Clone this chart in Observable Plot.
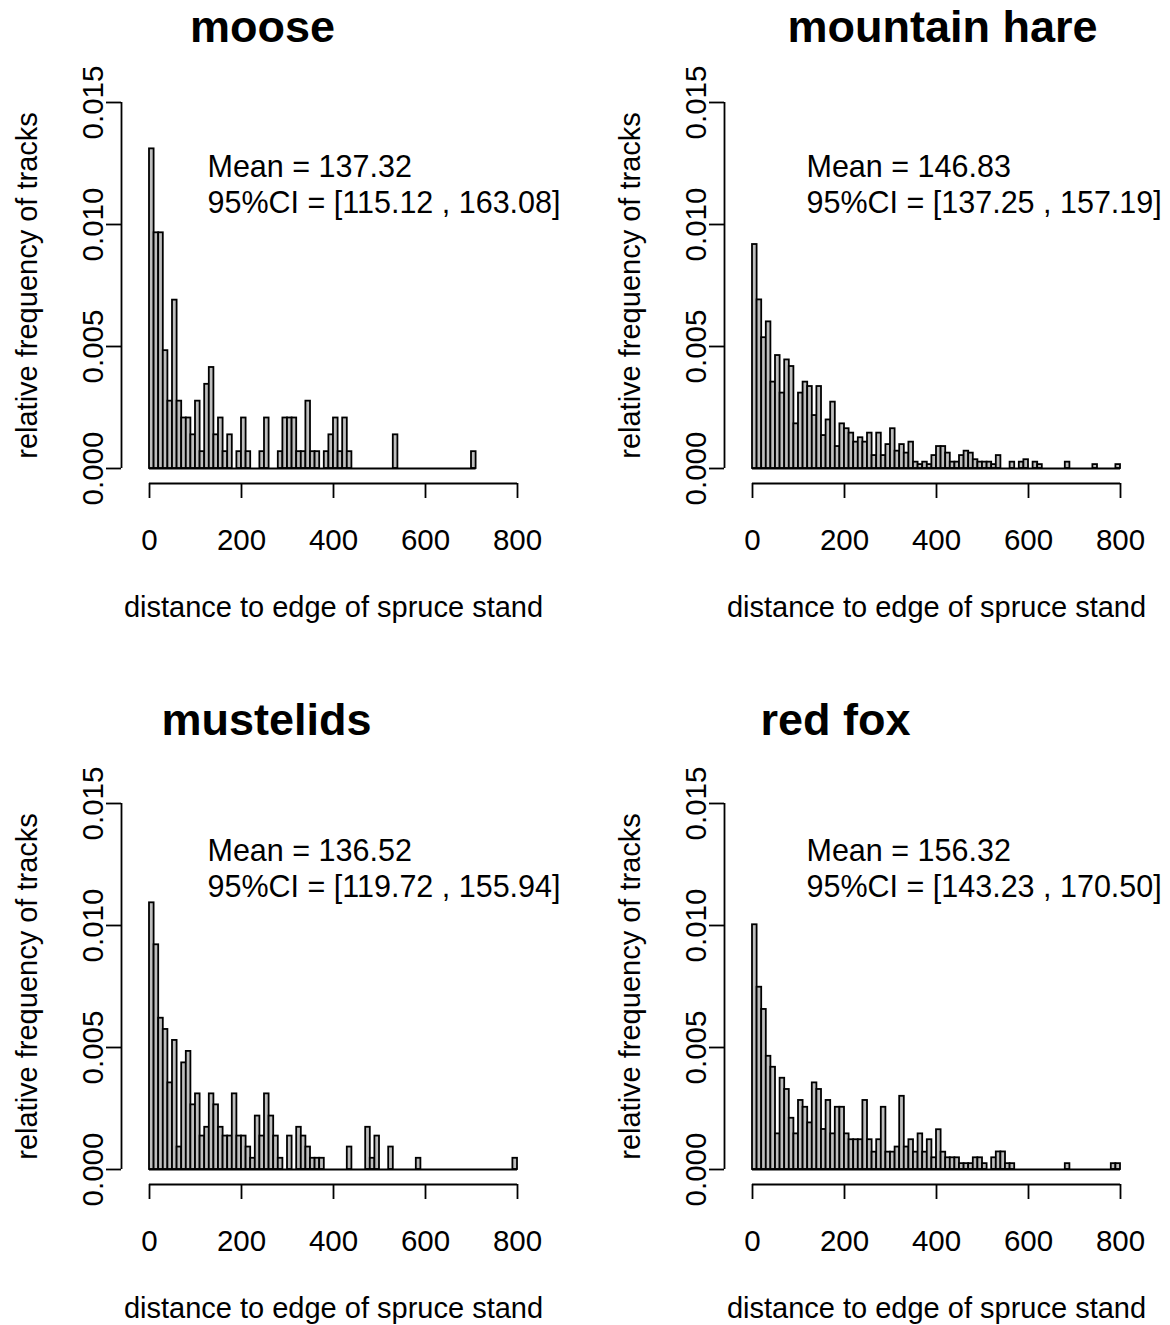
<!DOCTYPE html>
<html><head><meta charset="utf-8">
<script src="https://cdn.jsdelivr.net/npm/d3@7"></script>
<script src="https://cdn.jsdelivr.net/npm/@observablehq/plot@0.6"></script>
<style>
body{margin:0;background:#fff;}
#chart{position:relative;width:1170px;height:1325px;background:#fff;overflow:hidden;}
#chart svg{position:absolute;overflow:visible;}
</style></head><body><div id="chart"></div>
<script>
const species = ["moose", "mountain hare", "mustelids", "red fox"];
const binWidth = 10;

const mooseDensity = [
  0.01310, 0.00966, 0.00966, 0.00483, 0.00276, 0.00690, 0.00276, 0.00207, 0.00207, 0.00138,
  0.00276, 0.00069, 0.00345, 0.00414, 0.00138, 0.00207, 0.00069, 0.00138, 0, 0.00069,
  0.00207, 0.00069, 0, 0, 0.00069, 0.00207, 0, 0, 0.00069, 0.00207,
  0.00207, 0.00207, 0.00069, 0.00069, 0.00276, 0.00069, 0.00069, 0, 0.00069, 0.00138,
  0.00207, 0.00069, 0.00207, 0.00069, 0, 0, 0, 0, 0, 0,
  0, 0, 0, 0.00138, 0, 0, 0, 0, 0, 0,
  0, 0, 0, 0, 0, 0, 0, 0, 0, 0,
  0.00069
];
const hareDensity = [
  0.00918, 0.00691, 0.00536, 0.00601, 0.00354, 0.00463, 0.00309, 0.00445, 0.00418, 0.00183,
  0.00309, 0.00354, 0.00336, 0.00217, 0.00336, 0.00135, 0.00199, 0.00272, 0.00090, 0.00183,
  0.00163, 0.00145, 0.00108, 0.00126, 0.00108, 0.00145, 0.00053, 0.00145, 0.00053, 0.00098,
  0.00163, 0.00071, 0.00098, 0.00063, 0.00108, 0.00026, 0.00016, 0.00026, 0.00016, 0.00053,
  0.00090, 0.00090, 0.00063, 0.00026, 0.00026, 0.00053, 0.00071, 0.00063, 0.00036, 0.00026,
  0.00026, 0.00026, 0.00016, 0.00053, 0, 0, 0.00026, 0, 0.00026, 0.00036,
  0, 0.00026, 0.00016, 0, 0, 0, 0, 0, 0.00026, 0,
  0, 0, 0, 0, 0.00016, 0, 0, 0, 0, 0.00016
];
const mustelidDensity = [
  0.01093, 0.00921, 0.00620, 0.00574, 0.00355, 0.00529, 0.00092, 0.00437, 0.00484, 0.00265,
  0.00310, 0.00137, 0.00173, 0.00310, 0.00265, 0.00173, 0.00137, 0.00137, 0.00310, 0.00137,
  0.00137, 0.00092, 0.00046, 0.00219, 0.00137, 0.00310, 0.00219, 0.00137, 0.00046, 0,
  0.00137, 0, 0.00173, 0.00137, 0.00092, 0.00046, 0.00046, 0.00046, 0, 0,
  0, 0, 0, 0.00092, 0, 0, 0, 0.00173, 0.00046, 0.00137,
  0, 0, 0.00092, 0, 0, 0, 0, 0, 0.00046, 0,
  0, 0, 0, 0, 0, 0, 0, 0, 0, 0,
  0, 0, 0, 0, 0, 0, 0, 0, 0, 0.00046
];
const foxDensity = [
  0.01003, 0.00747, 0.00656, 0.00464, 0.00419, 0.00146, 0.00374, 0.00328, 0.00210, 0.00146,
  0.00283, 0.00255, 0.00191, 0.00355, 0.00328, 0.00164, 0.00283, 0.00146, 0.00255, 0.00255,
  0.00146, 0.00122, 0.00122, 0.00122, 0.00283, 0.00122, 0.00071, 0.00122, 0.00255, 0.00071,
  0.00071, 0.00092, 0.00300, 0.00092, 0.00122, 0.00071, 0.00146, 0.00071, 0.00122, 0.00048,
  0.00163, 0.00071, 0.00048, 0.00048, 0.00048, 0.00024, 0.00024, 0.00024, 0.00048, 0.00048,
  0.00024, 0, 0.00048, 0.00072, 0.00072, 0.00024, 0.00024, 0, 0, 0,
  0, 0, 0, 0, 0, 0, 0, 0, 0.00024, 0,
  0, 0, 0, 0, 0, 0, 0, 0, 0.00024, 0.00024
];
const densities = [mooseDensity, hareDensity, mustelidDensity, foxDensity];

const means = [137.32, 146.83, 136.52, 156.32];
const ciLower = [115.12, 137.25, 119.72, 143.23];
const ciUpper = [163.08, 157.19, 155.94, 170.50];

const xTicks = [0, 200, 400, 600, 800];
const yTicks = [0, 0.005, 0.010, 0.015];
const xLabel = "distance to edge of spruce stand";
const yLabel = "relative frequency of tracks";

// layout of the four panels (pixels)
const layout = [
  {left: 0,   top: 0,   titleDx: 113, titleDy: -75, noteDx: 58, noteDy: 65},
  {left: 603, top: 0,   titleDx: 190, titleDy: -75, noteDx: 54, noteDy: 65},
  {left: 0,   top: 701, titleDx: 117, titleDy: -83, noteDx: 58, noteDy: 48},
  {left: 603, top: 701, titleDx: 83,  titleDy: -83, noteDx: 54, noteDy: 48}
];

const font = "'Liberation Sans', Arial, Helvetica, sans-serif";
const fs = 29.5;
const lw = 1.8;
const container = document.getElementById("chart");

species.forEach((name, i) => {
  const L = layout[i];
  const bins = densities[i].map((v, k) => ({x1: k * binWidth, x2: (k + 1) * binWidth, y: v}));
  const fmtY = d3.format(".3f");
  const svg = Plot.plot({
    width: 567,
    height: 625,
    marginLeft: 149,
    marginRight: 50,
    marginTop: 102,
    marginBottom: 157,
    style: {fontFamily: font, background: "transparent", overflow: "visible"},
    x: {domain: [xTicks[0], xTicks[xTicks.length - 1]]},
    y: {domain: [yTicks[0], yTicks[yTicks.length - 1]]},
    marks: [
      Plot.rectY(bins, {x1: "x1", x2: "x2", y: "y", fill: "#bebebe", stroke: "#000", strokeWidth: lw}),
      Plot.ruleY([{y: 0, a: bins[0].x1, b: bins[bins.length - 1].x2}], {y: "y", x1: "a", x2: "b", stroke: "#000", strokeWidth: lw}),
      // x axis
      Plot.ruleY([{y: 0, a: xTicks[0], b: xTicks[xTicks.length - 1]}], {y: "y", x1: "a", x2: "b", dy: 15, stroke: "#000", strokeWidth: lw}),
      Plot.axisX({ticks: xTicks, tickSize: 15, dy: 15, tickFormat: () => "", label: null, strokeWidth: lw}),
      Plot.text(xTicks, {x: d => d, text: d => String(d), frameAnchor: "bottom", dy: 72, lineAnchor: "middle", fontSize: fs}),
      // y axis
      Plot.ruleX([{x: xTicks[0], a: yTicks[0], b: yTicks[yTicks.length - 1]}], {x: "x", y1: "a", y2: "b", dx: -28, stroke: "#000", strokeWidth: lw}),
      Plot.axisY({ticks: yTicks, tickSize: 15, dx: -28, tickFormat: () => "", label: null, strokeWidth: lw}),
      Plot.text(yTicks, {y: d => d, text: d => fmtY(d), frameAnchor: "left", dx: -56, rotate: -90, textAnchor: "middle", lineAnchor: "middle", fontSize: fs}),
      // titles and labels
      Plot.text([name], {text: d => d, frameAnchor: "top-left", dx: L.titleDx, dy: L.titleDy, textAnchor: "middle", lineAnchor: "middle", fontSize: 45, fontWeight: "bold"}),
      Plot.text([`Mean = ${means[i].toFixed(2)}`], {text: d => d, frameAnchor: "top-left", dx: L.noteDx, dy: L.noteDy, textAnchor: "start", lineAnchor: "middle", fontSize: 30.5}),
      Plot.text([`95%CI = [${ciLower[i].toFixed(2)} , ${ciUpper[i].toFixed(2)}]`], {text: d => d, frameAnchor: "top-left", dx: L.noteDx, dy: L.noteDy + 36, textAnchor: "start", lineAnchor: "middle", fontSize: 30.5}),
      Plot.text([xLabel], {text: d => d, frameAnchor: "bottom", dy: 139, lineAnchor: "middle", fontSize: 29}),
      Plot.text([yLabel], {text: d => d, frameAnchor: "left", dx: -122, rotate: -90, textAnchor: "middle", lineAnchor: "middle", fontSize: 29})
    ]
  });
  svg.style.left = L.left + "px";
  svg.style.top = L.top + "px";
  container.appendChild(svg);
});
</script>
</body></html>
